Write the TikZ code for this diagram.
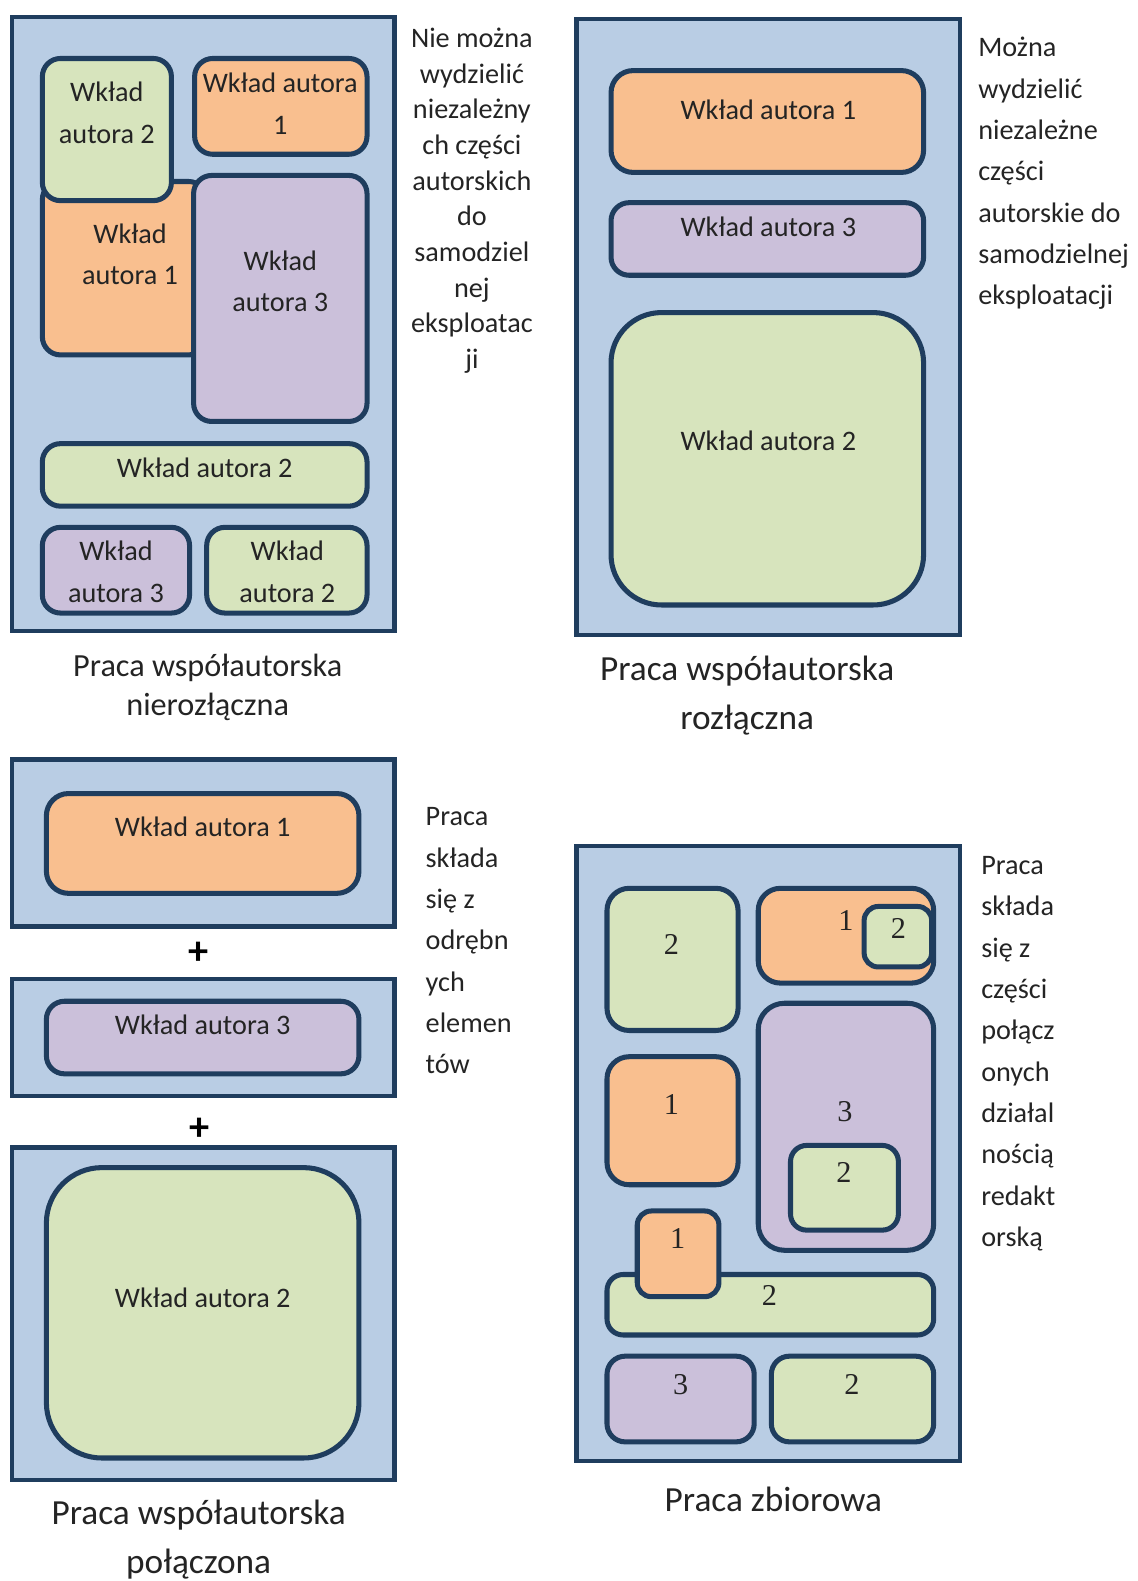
\documentclass[tikz,border=0pt]{standalone}
\usepackage{fontspec}
\setmainfont{Carlito}
\newfontfamily\numfont{Liberation Serif}
\usetikzlibrary{fit}
\definecolor{bord}{HTML}{1F3D5E}
\definecolor{bluebg}{HTML}{B9CDE4}
\definecolor{orng}{HTML}{F9BF8F}
\definecolor{grn}{HTML}{D7E4BD}
\definecolor{purp}{HTML}{CBC0DA}
\definecolor{txt}{HTML}{242424}
\begin{document}
\begin{tikzpicture}[x=1pt,y=-1pt,
 panel/.style={draw=bord, fill=bluebg, line width=4.5pt, inner sep=0pt, rectangle},
 part/.style={draw=bord, line width=5pt, inner sep=0pt, rounded corners=18pt, rectangle},
 lbl/.style={text=txt, font=\fontsize{28}{41}\selectfont, align=center, inner sep=0pt},
 num/.style={text=txt, font=\numfont\fontsize{30}{36}\selectfont, inner sep=0pt},
 side/.style={text=txt, font=\fontsize{28}{41}\selectfont, align=left, inner sep=0pt, anchor=west},
 captxt/.style={text=txt, font=\fontsize{35}{48}\selectfont, align=center, inner sep=0pt},
 plussign/.style={text=black, font=\bfseries\fontsize{40}{40}\selectfont, inner sep=0pt},
]
\useasboundingbox (0,0) rectangle (1128,1568);

% ---------- Panel 1 ----------
\node[panel, fit={(12,17)(391,626)}] (P1) {};
\node[part, fill=orng, fit={(42,180)(205,352)}] (p1o2) {};
\node[part, fill=grn, fit={(42,58)(170,199)}] (p1g1) {};
\node[part, fill=orng, fit={(193,58)(364,153)}] (p1o1) {};
\node[part, fill=purp, fit={(192,174)(364,418)}] (p1p1) {};
\node[part, fill=grn, fit={(42,440)(364,502)}] (p1g2) {};
\node[part, fill=purp, fit={(42,523)(188,608)}] (p1p2) {};
\node[part, fill=grn, fit={(205,523)(364,608)}] (p1g3) {};
\node[lbl] (t11) at (106,112) {Wkład\\autora 2};
\node[lbl] (t12) at (278,103) {Wkład autora\\1};
\node[lbl] (t13) at (129,252) {Wkład\\autora 1};
\node[lbl] (t14) at (278,279) {Wkład\\autora 3};
\node[lbl] (t15) at (203,464) {Wkład autora 2};
\node[lbl] (t16) at (115,567) {Wkład\\autora 3};
\node[lbl] (t17) at (285,567) {Wkład\\autora 2};
\node[lbl, font=\fontsize{28}{35.4}\selectfont] (s1) at (468,199) {Nie można\\wydzielić\\niezależny\\ch części\\autorskich\\do\\samodziel\\nej\\eksploatac\\ji};
\node[captxt, font=\fontsize{32}{39}\selectfont] (c1) at (206,682) {Praca współautorska\\nierozłączna};

% ---------- Panel 2 ----------
\node[panel, fit={(572,19)(952,630)}] (P2) {};
\node[part, fill=orng, rounded corners=22pt, fit={(606,70)(916,171)}] (p2o) {};
\node[part, fill=purp, fit={(606,201)(916,273)}] (p2p) {};
\node[part, fill=grn, rounded corners=50pt, fit={(606,310)(916,600)}] (p2g) {};
\node[lbl] (t21) at (762,109) {Wkład autora 1};
\node[lbl] (t22) at (762,225) {Wkład autora 3};
\node[lbl] (t23) at (762,437) {Wkład autora 2};
\node[side] (s2) at (970,172) {Można\\wydzielić\\niezależne\\części\\autorskie do\\samodzielnej\\eksploatacji};
\node[captxt] (c2) at (741,690) {Praca współautorska\\rozłączna};

% ---------- Panel 3 ----------
\node[panel, fit={(12,753)(391,919)}] (P3a) {};
\node[part, fill=orng, rounded corners=22pt, fit={(46,787)(356,886)}] (p3o) {};
\node[plussign] (pl1) at (197,945) {+};
\node[panel, fit={(12,971)(391,1087)}] (P3b) {};
\node[part, fill=purp, fit={(46,993)(356,1065)}] (p3p) {};
\node[plussign] (pl2) at (198,1120) {+};
\node[panel, fit={(12,1138)(391,1468)}] (P3c) {};
\node[part, fill=grn, rounded corners=55pt, fit={(46,1158)(356,1446)}] (p3g) {};
\node[lbl] (t31) at (201,820) {Wkład autora 1};
\node[lbl] (t32) at (201,1016) {Wkład autora 3};
\node[lbl] (t33) at (201,1287) {Wkład autora 2};
\node[side] (s3) at (422,933) {Praca\\składa\\się z\\odrębn\\ych\\elemen\\tów};
\node[captxt] (c3) at (197,1527) {Praca współautorska\\połączona};

% ---------- Panel 4 ----------
\node[panel, fit={(572,839)(952,1449)}] (P4) {};
\node[part, fill=grn, rounded corners=22pt, fit={(602,881)(732,1022)}] (q1) {};
\node[part, fill=orng, rounded corners=22pt, fit={(752,881)(926,975)}] (q2) {};
\node[part, fill=grn, rounded corners=14pt, fit={(857,899)(924,959)}] (q3) {};
\node[part, fill=purp, rounded corners=26pt, fit={(752,995)(926,1240)}] (q4) {};
\node[part, fill=grn, rounded corners=16pt, fit={(784,1136)(891,1220)}] (q5) {};
\node[part, fill=orng, rounded corners=22pt, fit={(602,1048)(732,1175)}] (q6) {};
\node[part, fill=grn, rounded corners=16pt, fit={(602,1264)(926,1324)}] (q7) {};
\node[part, fill=orng, rounded corners=14pt, fit={(632,1201)(713,1286)}] (q8) {};
\node[part, fill=purp, rounded corners=18pt, fit={(602,1345)(748,1430)}] (q9) {};
\node[part, fill=grn, rounded corners=18pt, fit={(765,1345)(926,1430)}] (q10) {};
\node[num] (n1) at (666,937) {2};
\node[num] (n2) at (839,913) {1};
\node[num] (n3) at (891,921) {2};
\node[num] (n4) at (838,1102) {3};
\node[num] (n5) at (837,1163) {2};
\node[num] (n6) at (666,1095) {1};
\node[num] (n7) at (763,1285) {2};
\node[num] (n8) at (672,1228) {1};
\node[num] (n9) at (675,1373) {3};
\node[num] (n10) at (845,1373) {2};
\node[side] (s4) at (973,1045) {Praca\\składa\\się z\\części\\połącz\\onych\\działal\\nością\\redakt\\orską};
\node[captxt] (c4) at (767,1487) {Praca zbiorowa};
\end{tikzpicture}
\end{document}
